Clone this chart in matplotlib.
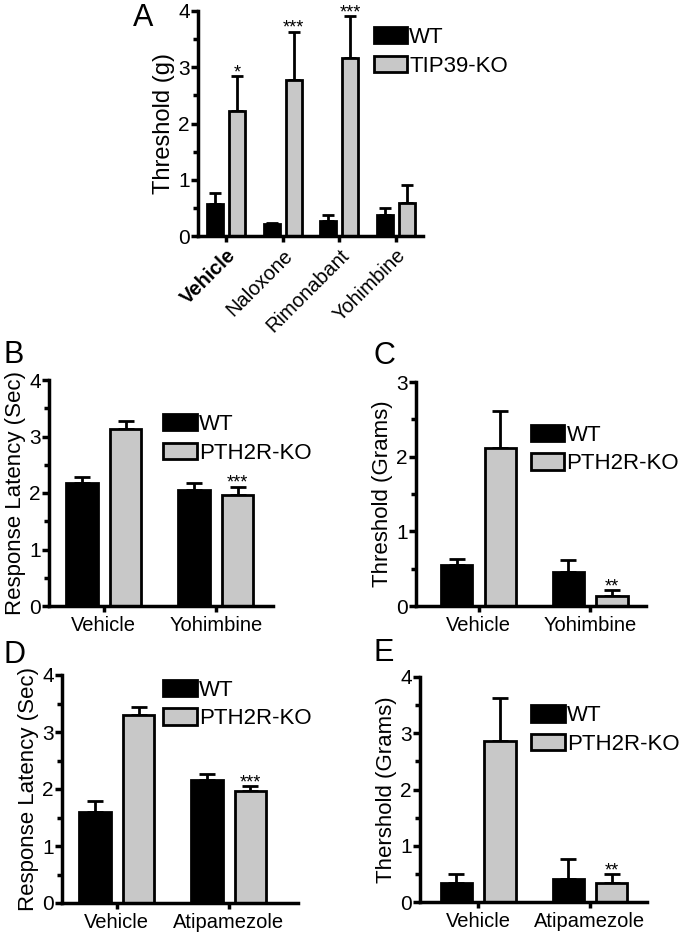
import matplotlib
matplotlib.use("Agg")
import matplotlib.pyplot as plt
import matplotlib.transforms as mtransforms
import numpy as np
from matplotlib.ticker import MultipleLocator

plt.rcParams['font.family'] = ['Liberation Sans', 'DejaVu Sans']

# ---------------- data ----------------
a_cats = ["Vehicle", "Naloxone", "Rimonabant", "Yohimbine"]
a_wt = [0.57, 0.21, 0.27, 0.37]
a_wt_err = [0.76, 0.24, 0.375, 0.49]
a_ko = [2.23, 2.77, 3.17, 0.58]
a_ko_err = [2.84, 3.63, 3.91, 0.90]
a_sig = ["*", "***", "***", ""]

b_cats = ["Vehicle", "Yohimbine"]
b_wt = [2.17, 2.05]
b_wt_err = [2.29, 2.18]
b_ko = [3.14, 1.97]
b_ko_err = [3.28, 2.11]
b_sig = ["", "***"]

c_cats = ["Vehicle", "Yohimbine"]
c_wt = [0.55, 0.46]
c_wt_err = [0.63, 0.62]
c_ko = [2.11, 0.14]
c_ko_err = [2.61, 0.21]
c_sig = ["", "**"]

d_cats = ["Vehicle", "Atipamezole"]
d_wt = [1.60, 2.155]
d_wt_err = [1.79, 2.27]
d_ko = [3.30, 1.97]
d_ko_err = [3.43, 2.05]
d_sig = ["", "***"]

e_cats = ["Vehicle", "Atipamezole"]
e_wt = [0.33, 0.41]
e_wt_err = [0.49, 0.77]
e_ko = [2.86, 0.34]
e_ko_err = [3.63, 0.49]
e_sig = ["", "**"]

W, H = 680, 933
fig = plt.figure(figsize=(W / 100, H / 100), dpi=100)

def rect(left, right, top, bottom):
    return [left / W, 1 - bottom / H, (right - left) / W, (bottom - top) / H]

GRAY = "#c8c8c8"
BW = 0.28
OFF = 0.195

def panel(r, cats, wt, wt_err, ko, ko_err, sig, ymax, xlim, ylabel, ko_name,
          leg_anchor, capsize=4.5, rot=False, bold_first=False, ylabel_size=16):
    ax = fig.add_axes(rect(*r))
    x = np.arange(len(cats))
    ax.bar(x - OFF, wt, BW, color="black", edgecolor="black", linewidth=2, label="WT", zorder=2)
    ax.bar(x + OFF, ko, BW, color=GRAY, edgecolor="black", linewidth=2, label=ko_name, zorder=2)
    up_wt = np.array(wt_err) - np.array(wt)
    up_ko = np.array(ko_err) - np.array(ko)
    ax.errorbar(x - OFF, wt, yerr=[np.zeros(len(x)), up_wt], fmt="none", ecolor="black",
                elinewidth=2, capsize=capsize, capthick=2, zorder=1)
    ax.errorbar(x + OFF, ko, yerr=[np.zeros(len(x)), up_ko], fmt="none", ecolor="black",
                elinewidth=2, capsize=capsize, capthick=2, zorder=1)
    trans = mtransforms.offset_copy(ax.transData, fig=fig, y=-1, units="dots")
    for xi, top, s in zip(x, ko_err, sig):
        if s:
            ax.text(xi + OFF, top, s, ha="center", va="baseline", transform=trans,
                    fontsize=13, clip_on=False)
    ax.set_xlim(*xlim)
    ax.set_ylim(0, ymax)
    ax.yaxis.set_major_locator(MultipleLocator(1))
    ax.yaxis.set_minor_locator(MultipleLocator(0.5))
    ax.set_xticks(x)
    if rot:
        ax.set_xticklabels(cats, rotation=45, ha="right", rotation_mode="anchor", fontsize=14.5)
    else:
        ax.set_xticklabels(cats, fontsize=14.5)
    if bold_first:
        ax.get_xticklabels()[0].set_fontweight("bold")
    for sp in ["top", "right"]:
        ax.spines[sp].set_visible(False)
    for sp in ["left", "bottom"]:
        ax.spines[sp].set_linewidth(2.5)
    ax.tick_params(axis="y", which="major", length=5, width=2.5, labelsize=15, pad=1)
    ax.tick_params(axis="y", which="minor", length=3.5, width=2.5)
    ax.tick_params(axis="x", which="major", length=4, width=2.5, pad=3)
    ax.set_ylabel(ylabel, fontsize=ylabel_size, labelpad=2)
    ax.legend(loc="upper left", bbox_to_anchor=leg_anchor, frameon=False, fontsize=16,
              handlelength=1.5, handleheight=0.75, handletextpad=0.1, labelspacing=0.35,
              borderpad=0, borderaxespad=0)
    return ax

panel((198, 423, 11, 236), a_cats, a_wt, a_wt_err, a_ko, a_ko_err, a_sig, 4, (-0.5, 3.48),
      "Threshold (g)", "TIP39-KO", (0.78, 0.93), capsize=4, rot=True, bold_first=True,
      ylabel_size=17)
panel((49, 273, 380, 606), b_cats, b_wt, b_wt_err, b_ko, b_ko_err, b_sig, 4, (-0.49, 1.51),
      "Response Latency (Sec)", "PTH2R-KO", (0.51, 0.85), capsize=5.5)
panel((416, 646, 382, 606), c_cats, c_wt, c_wt_err, c_ko, c_ko_err, c_sig, 3, (-0.56, 1.5),
      "Threshold (Grams)", "PTH2R-KO", (0.5, 0.81), capsize=5.5)
panel((62, 298, 675, 903), d_cats, d_wt, d_wt_err, d_ko, d_ko_err, d_sig, 4, (-0.49, 1.62),
      "Response Latency (Sec)", "PTH2R-KO", (0.43, 0.98), capsize=5.5)
panel((420, 647, 677, 902), e_cats, e_wt, e_wt_err, e_ko, e_ko_err, e_sig, 4, (-0.52, 1.51),
      "Thershold (Grams)", "PTH2R-KO", (0.49, 0.875), capsize=5.5)

for lab, px, py in [("A", 133, 3), ("B", 3, 340), ("C", 373, 341), ("D", 3, 640), ("E", 373, 638)]:
    fig.text(px / W, 1 - py / H, lab, fontsize=22, ha="left", va="top")

fig.savefig("out.png", dpi=100)
